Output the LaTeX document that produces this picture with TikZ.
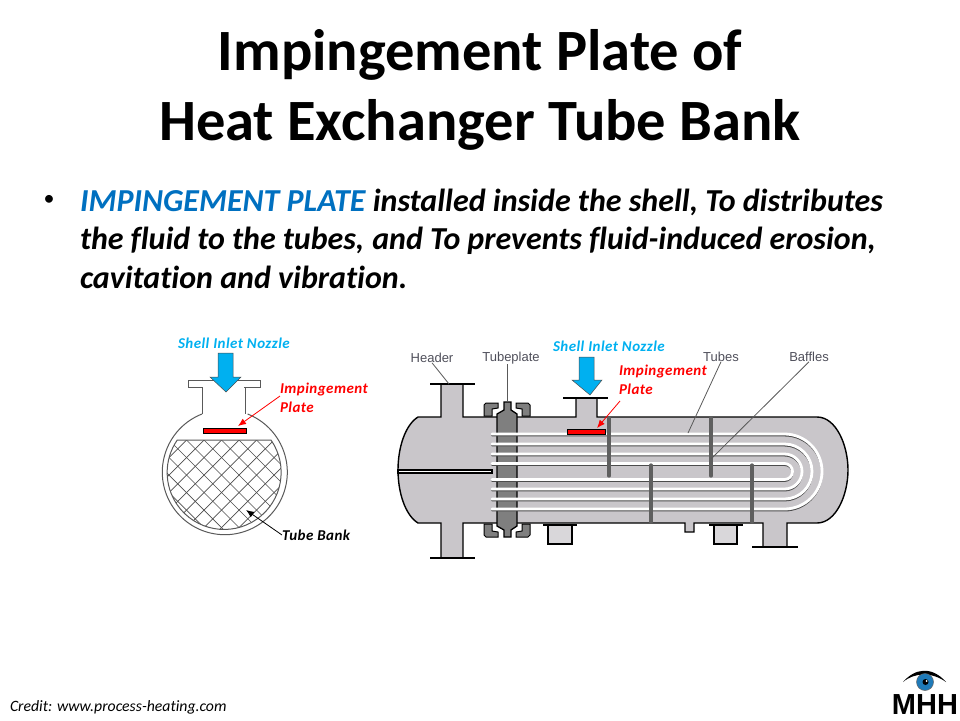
\documentclass[tikz,border=0pt]{standalone}
\usepackage{fontspec}
\usepackage{tikz}
\usetikzlibrary{arrows,arrows.meta,shapes,backgrounds}
\setmainfont[Ligatures=NoCommon]{Carlito}
\newfontfamily\labelfont{Liberation Sans}
\newcommand{\calloutfont}[1]{\bfseries\itshape\addfontfeature{LetterSpace=3}\fontsize{#1}{19}\selectfont}
\definecolor{shellgrey}{HTML}{C9C6CA}
\definecolor{platedark}{HTML}{7F7F7F}
\definecolor{bafflegrey}{HTML}{5F5F5F}
\definecolor{labelgrey}{HTML}{4F4F5A}
\definecolor{inletblue}{HTML}{00B0F0}
\definecolor{headblue}{HTML}{0070C0}
\definecolor{irisblue}{HTML}{1F7AB8}

\begin{document}
\begin{tikzpicture}[x=1pt, y=-1pt]
	  \tikzstyle{every node} = [inner sep=0pt, outer sep=0pt]
	  \tikzstyle{callout} = [font=\calloutfont{15}, align=left, anchor=north west]
	  \tikzstyle{partname} = [font=\labelfont\fontsize{13}{15}\selectfont, text=labelgrey]
	  \tikzstyle{bodytext} = [font=\bfseries\itshape\fontsize{32}{38}\selectfont, anchor=base west]
	  \tikzstyle{titletext} = [font=\bfseries\fontsize{58.5}{60}\selectfont, anchor=base]
	  \tikzstyle{shell} = [fill=shellgrey, draw=black, line width=1.4pt]
	  \tikzstyle{sketch} = [draw=black!65, line width=1pt]
	  \tikzstyle{redplate} = [draw=black, fill=red, line width=0.7pt]
	  \tikzstyle{inletarrow} = [fill=inletblue, draw=black!70, line width=0.5pt]
	  \tikzstyle{leader} = [draw=black!65, line width=0.8pt]
	  \tikzstyle{baffle} = [draw=bafflegrey, line width=3.2pt, line cap=round]
	  \tikzstyle{pointer} = [-{Latex[length=8pt,width=6.5pt]}, line width=0.8pt]
	  \useasboundingbox (0,0) rectangle (960,720);
	  % heading
	  \node[titletext] (title1) at (480,70) {Impingement Plate of};
	  \node[titletext] (title2) at (480,140) {Heat Exchanger Tube Bank};
	  \node (bullet) at (49,200) {\fontsize{22}{22}\selectfont\textbullet};
	  \node[bodytext] (line1) at (80,211) {\textcolor{headblue}{IMPINGEMENT PLATE} installed inside the shell, To distributes};
	  \node[bodytext] (line2) at (80,249) {\hbox to 796pt{\spaceskip=3pt plus 10pt\relax the fluid to the tubes, and To prevents fluid-induced erosion,}};
	  \node[bodytext] (line3) at (80,288) {cavitation and vibration.};
	  % cross section
	  \draw [sketch] (188,380) rectangle (260,387);
	  \fill [white] (203,385) rectangle (244,389);
	  \draw [sketch] (202,387) -- (202,414);
	  \draw [sketch] (245,387) -- (245,414);
	  \draw [sketch] (202,414) arc (-111.4:-428.6:62.5);
	  \begin{scope}
	    \clip (178,440) -- (271,440) arc (-34.7:214.7:57) -- cycle;
	    \foreach \k in {-12,...,12} {
	      \draw [draw=black!70, line width=0.7pt] (221.5+\k*17.5,440) -- +(110,110);
	      \draw [draw=black!70, line width=0.7pt] (221.5+\k*17.5,440) -- +(-110,110);
	    }
	  \end{scope}
	  \draw [sketch] (178,440) -- (271,440) arc (-34.7:214.7:57) -- cycle;
	  \node[redplate, minimum width=43pt, minimum height=5pt] (plate1) at (224.5,430.5) {};
	  \draw [inletarrow] (218,353) -- (233,353) -- (233,377) -- (241,377) -- (226,392) -- (210,377) -- (218,377) -- cycle;
	  \node[font=\calloutfont{15}, text=inletblue, anchor=west] (inlet1) at (178,343) {Shell Inlet Nozzle};
	  \node[callout, text=red] (callout1) at (280,383) {Impingement\\Plate};
	  \coordinate (callout1tip) at (238,426);
	  \coordinate (callout1start) at (280,396);
	  \draw [pointer, red] (callout1start) -- (callout1tip);
	  \node[font=\calloutfont{15}, anchor=west] (bank) at (282,535) {Tube Bank};
	  \coordinate (banktip) at (246,510);
	  \draw [pointer, black] (bank.west) -- (banktip);
	  % long section
	  \draw [shell] (441,384) -- (463,384) -- (463,417) -- (576,417) -- (576,398) -- (597,398) -- (597,417)
	    -- (817,417) .. controls (836,417) and (848,445) .. (848,470) .. controls (848,495) and (836,523) .. (817,523)
	    -- (787,523) -- (787,547) -- (763,547) -- (763,523) -- (694,523) -- (694,532) -- (685,532) -- (685,523)
	    -- (463,523) -- (463,558) -- (441,558) -- (441,523) -- (418,523)
	    .. controls (405,515) and (398,492) .. (398,470) .. controls (398,448) and (405,425) .. (418,417) -- (441,417) -- cycle;
	  \draw [line width=1.5pt] (430,384) -- (475,384);
	  \draw [line width=1.5pt] (563,398) -- (608,398);
	  \draw [line width=1.5pt] (430,558) -- (475,558);
	  \draw [line width=1.5pt] (752,547) -- (798,547);
	  \draw [shell, fill=shellgrey!70] (548,525) rectangle (572,544);
	  \draw [shell, fill=shellgrey!70] (714,525) rectangle (737,544);
	  \draw [line width=1.8pt] (543,525) -- (577,525);
	  \draw [line width=1.8pt] (709,525) -- (743,525);
	  % header partition
	  \draw [fill=white, line width=1.1pt] (398,470) rectangle (492,473);
	  % tube plate
	  \fill [white] (492,410) rectangle (521,416);
	  \fill [white] (492,524) rectangle (521,530);
	  \draw [fill=platedark, line width=1.3pt] (504,402) -- (511,402) -- (511,410) -- (517,414) -- (517,526) -- (511,530) -- (511,537) -- (504,537) -- (504,530) -- (497,526) -- (497,414) -- (504,410) -- cycle;
	  \foreach \x/\s in {484/1, 530/-1} {
	    \draw [fill=platedark, line width=1pt] (\x,416) -- (\x,405) -- (\x+\s*2,403) -- (\x+\s*14,403) -- (\x+\s*14,408) -- (\x+\s*8,409) -- (\x+\s*8,416) -- cycle;
	    \draw [fill=platedark, line width=1pt] (\x,524) -- (\x,535) -- (\x+\s*2,537) -- (\x+\s*14,537) -- (\x+\s*14,532) -- (\x+\s*8,531) -- (\x+\s*8,524) -- cycle;
	  }
	  % tubes
	  \foreach \a/\b/\r in {434/509/37.5, 444/499/27.5, 454/489/17.5, 463.5/479.5/8} {
	    \draw [line width=1.5pt, draw=black!70, line cap=round, yshift=-1.7pt] (492,\a) -- (784.5,\a) arc (-90:90:\r) -- (492,\b);
	    \draw [line width=2.8pt, draw=white, line cap=round] (492,\a) -- (784.5,\a) arc (-90:90:\r) -- (492,\b);
	  }
	  % baffles
	  \foreach \x in {609,711}
	    \draw [baffle] (\x,418) -- (\x,476);
	  \foreach \x in {651,752}
	    \draw [baffle] (\x,465) -- (\x,522);
	  \node[redplate, minimum width=38pt, minimum height=5pt] (plate2) at (586.5,431.5) {};
	  \draw [inletarrow] (579,357) -- (594,357) -- (594,380) -- (602,380) -- (590,395) -- (572,380) -- (579,380) -- cycle;
	  \node[font=\calloutfont{15}, text=inletblue, anchor=west] (inlet2) at (553,346) {Shell Inlet Nozzle};
	  \node[callout, text=red] (callout2) at (619,365) {Impingement\\Plate};
	  \coordinate (callout2tip) at (597,428);
	  \coordinate (callout2start) at (620,401);
	  \draw [pointer, red] (callout2start) -- (callout2tip);
	  % part names
	  \node[partname] (header) at (432,358) {Header};
	  \node[partname] (tubeplate) at (511,358) {Tubeplate};
	  \node[partname] (tubes) at (721,357) {Tubes};
	  \node[partname] (baffles) at (809,357) {Baffles};
	  \coordinate (headerend) at (449,384);
	  \coordinate (plateend) at (507,402);
	  \coordinate (tubesend) at (688,433);
	  \coordinate (bafflesend) at (711,459);
	  \draw [leader] (header.south) -- (headerend);
	  \draw [leader] (tubeplate.south -| plateend) -- (plateend);
	  \draw [leader] (tubes.south) -- (tubesend);
	  \draw [leader] (baffles.south) -- (bafflesend);
	  % credit and logo
	  \node[font=\itshape\fontsize{15.75}{15}\selectfont, anchor=base west] (credit) at (10,711) {Credit: www.process-heating.com};
	  \fill [black] (903,682) .. controls (915,668) and (932,666) .. (946,682) .. controls (932,672) and (915,672) .. (903,682) -- cycle;
	  \node[circle, fill=irisblue, draw=black!60, line width=0.5pt, minimum size=17pt] (iris) at (925,682) {};
	  \node[circle, fill=black, minimum size=6pt] (pupil) at (925.5,682) {};
	  \node[circle, fill=white, minimum size=2pt] (glint) at (926.5,681) {};
	  \node[font=\labelfont\bfseries\fontsize{29}{29}\selectfont, anchor=base] (logo) at (925,714) {MHH};
	\end{tikzpicture}
\end{document}
